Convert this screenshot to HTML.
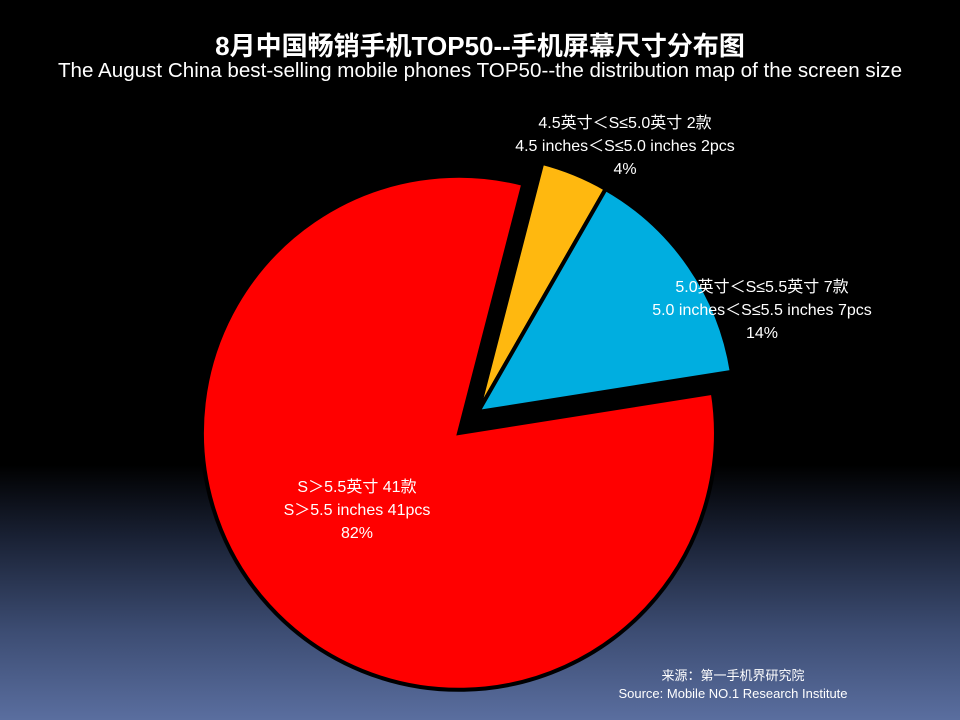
<!DOCTYPE html>
<html><head><meta charset="utf-8"><style>
html,body{margin:0;padding:0}
body{width:960px;height:720px;position:relative;overflow:hidden;
background:linear-gradient(to bottom,#000 0px,#000 465px,#1a2236 540px,#3c4c72 630px,#5a6e9f 720px);
font-family:"Liberation Sans","Noto Sans CJK SC",sans-serif;color:#fff}
.t{position:absolute;left:0;width:960px;text-align:center;white-space:nowrap}
.l{position:absolute;text-align:center;font-size:16px;line-height:23px;white-space:nowrap}
</style></head><body>
<div class="t" style="top:26px;font-size:26px;font-weight:bold">8月中国畅销手机TOP50--手机屏幕尺寸分布图</div>
<div class="t" style="top:59px;font-size:20.6px">The August China best-selling mobile phones TOP50--the distribution map of the screen size</div>
<svg width="960" height="720" style="position:absolute;left:0;top:0">
<path d="M459,433 L712.8,392.8 A257,257 0 1 1 523.3,184.0 Z" fill="#ff0000" stroke="#000" stroke-width="4"/>
<path d="M478,412 L542.3,163.0 A257,257 0 0 1 605.7,189.0 Z" fill="#ffb80f" stroke="#000" stroke-width="4"/>
<path d="M478,412 L605.7,189.0 A257,257 0 0 1 731.8,371.8 Z" fill="#00aee0" stroke="#000" stroke-width="4"/>
</svg>
<div class="l" style="left:475px;width:300px;top:112px">4.5英寸＜S≤5.0英寸 2款<br>4.5 inches＜S≤5.0 inches 2pcs<br>4%</div>
<div class="l" style="left:612px;width:300px;top:276px">5.0英寸＜S≤5.5英寸 7款<br>5.0 inches＜S≤5.5 inches 7pcs<br>14%</div>
<div class="l" style="left:207px;width:300px;top:476px">S＞5.5英寸 41款<br>S＞5.5 inches 41pcs<br>82%</div>
<div class="l" style="left:583px;width:300px;top:667px;font-size:13px;line-height:18px">来源：第一手机界研究院<br>Source: Mobile NO.1 Research Institute</div>
</body></html>
